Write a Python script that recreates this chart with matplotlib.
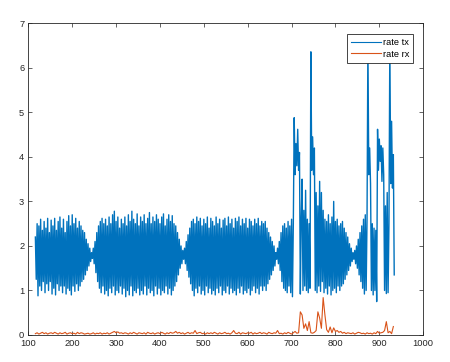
import numpy as np
import matplotlib
matplotlib.use("Agg")
import matplotlib.pyplot as plt

# ---- data ----
tx_start, tx_step = 116, 2
rate_tx = [
    2.2, 1.25, 2.5, 0.88, 2.45, 1.1, 2.6, 1.0, 2.35, 1.2,
    2.55, 0.95, 2.4, 1.15, 2.62, 1.0, 2.3, 1.2, 2.58, 0.92,
    2.45, 1.05, 2.62, 0.9, 2.35, 1.15, 2.55, 1.0, 2.65, 1.1,
    2.4, 0.95, 2.6, 1.1, 2.3, 0.92, 2.55, 1.05, 2.68, 1.0,
    2.45, 0.9, 2.7, 1.1, 2.5, 0.98, 2.62, 1.15, 2.4, 1.0,
    2.55, 1.1, 2.45, 1.2, 2.35, 1.25, 2.3, 1.35, 2.15, 1.45,
    2.05, 1.55, 1.95, 1.65, 1.85, 1.72, 1.95, 1.6, 2.1, 1.4,
    2.3, 1.2, 2.45, 1.05, 2.55, 0.95, 2.62, 1.1, 2.5, 0.92,
    2.6, 1.0, 2.45, 0.88, 2.65, 1.05, 2.5, 0.95, 2.7, 1.1,
    2.78, 0.9, 2.55, 1.0, 2.65, 0.95, 2.4, 1.1, 2.6, 0.92,
    2.5, 1.05, 2.65, 0.86, 2.45, 1.0, 2.7, 0.9, 2.55, 1.1,
    2.78, 0.88, 2.6, 1.0, 2.5, 0.95, 2.72, 1.05, 2.45, 0.9,
    2.65, 1.0, 2.55, 0.92, 2.7, 1.1, 2.5, 0.9, 2.62, 1.05,
    2.75, 0.95, 2.5, 1.0, 2.65, 0.88, 2.55, 1.1, 2.7, 0.92,
    2.6, 1.05, 2.5, 0.9, 2.65, 1.0, 2.72, 0.95, 2.45, 1.1,
    2.6, 0.92, 2.7, 1.05, 2.55, 0.9, 2.68, 1.0, 2.5, 1.1,
    2.45, 1.2, 2.3, 1.35, 2.15, 1.5, 2.0, 1.6, 1.9, 1.7,
    1.95, 1.6, 2.1, 1.45, 2.25, 1.3, 2.4, 1.15, 2.55, 1.0,
    2.6, 0.88, 2.5, 1.05, 2.65, 0.95, 2.55, 1.1, 2.62, 0.92,
    2.45, 1.0, 2.6, 0.9, 2.5, 1.1, 2.65, 0.95, 2.4, 1.05,
    2.62, 0.92, 2.55, 1.0, 2.45, 0.9, 2.65, 1.05, 2.5, 0.95,
    2.6, 1.1, 2.4, 0.9, 2.58, 1.0, 2.62, 0.95, 2.45, 1.1,
    2.65, 0.92, 2.5, 1.05, 2.6, 0.95, 2.4, 1.0, 2.62, 0.9,
    2.55, 1.05, 2.65, 0.95, 2.45, 1.1, 2.6, 0.92, 2.5, 1.0,
    2.62, 0.95, 2.4, 1.05, 2.6, 0.9, 2.55, 1.0, 2.45, 1.1,
    2.6, 0.95, 2.5, 1.05, 2.62, 0.92, 2.45, 1.1, 2.55, 1.0,
    2.5, 1.1, 2.55, 1.0, 2.4, 1.15, 2.3, 1.25, 2.2, 1.35,
    2.1, 1.45, 2.0, 1.55, 1.85, 1.7, 1.95, 1.6, 2.1, 1.45,
    2.3, 1.2, 2.45, 1.05, 2.5, 1.0, 2.4, 0.95, 2.55, 1.1,
    2.45, 0.95, 2.6, 0.86, 2.5, 4.88, 3.6, 4.3, 3.8, 4.62,
    3.7, 4.1, 0.92, 2.6, 3.5, 1.0, 2.8, 1.1, 3.25, 1.0,
    2.6, 0.95, 2.5, 1.05, 6.36, 3.7, 4.45, 3.6, 4.2, 1.0,
    3.2, 0.95, 2.9, 1.1, 3.45, 0.98, 3.2, 1.2, 2.8, 0.95,
    2.6, 1.05, 2.55, 0.92, 2.7, 1.1, 2.5, 0.9, 2.65, 1.0,
    3.0, 1.05, 2.55, 0.95, 2.6, 1.1, 2.45, 1.0, 2.5, 1.1,
    2.55, 1.15, 2.4, 1.25, 2.3, 1.35, 2.2, 1.45, 2.05, 1.55,
    1.95, 1.65, 1.85, 1.7, 1.9, 1.6, 2.0, 1.5, 2.15, 1.35,
    2.3, 1.2, 2.45, 1.05, 2.6, 0.92, 2.7, 1.0, 2.6, 6.6,
    3.6, 4.2, 3.4, 1.0, 2.5, 0.9, 2.4, 1.0, 2.35, 0.75,
    4.62, 3.7, 4.4, 3.9, 4.25, 3.45, 4.2, 3.6, 1.0, 2.9,
    0.93, 3.2, 0.95, 2.5, 6.6, 3.4, 4.8, 3.3, 4.05, 1.35,
]

rx_start, rx_step = 116, 4
rate_rx = [
    0.03, 0.05, 0.02, 0.04, 0.06, 0.03, 0.05, 0.02, 0.04, 0.05,
    0.03, 0.06, 0.04, 0.02, 0.05, 0.03, 0.04, 0.06, 0.02, 0.04,
    0.05, 0.03, 0.04, 0.02, 0.06, 0.03, 0.05, 0.04, 0.02, 0.03,
    0.04, 0.02, 0.03, 0.05, 0.02, 0.04, 0.03, 0.05, 0.02, 0.04,
    0.03, 0.05, 0.02, 0.04, 0.06, 0.08, 0.05, 0.07, 0.04, 0.05,
    0.03, 0.05, 0.04, 0.02, 0.05, 0.03, 0.06, 0.04, 0.02, 0.05,
    0.04, 0.03, 0.05, 0.02, 0.06, 0.04, 0.03, 0.05, 0.02, 0.04,
    0.05, 0.03, 0.06, 0.04, 0.02, 0.05, 0.03, 0.06, 0.04, 0.05,
    0.08, 0.04, 0.06, 0.03, 0.05, 0.02, 0.04, 0.06, 0.03, 0.05,
    0.04, 0.10, 0.03, 0.05, 0.06, 0.03, 0.04, 0.02, 0.05, 0.03,
    0.05, 0.03, 0.06, 0.04, 0.02, 0.05, 0.03, 0.04, 0.06, 0.03,
    0.04, 0.02, 0.05, 0.10, 0.04, 0.03, 0.06, 0.02, 0.05, 0.04,
    0.03, 0.05, 0.04, 0.06, 0.02, 0.05, 0.03, 0.04, 0.06, 0.03,
    0.05, 0.04, 0.02, 0.06, 0.04, 0.03, 0.05, 0.04, 0.10, 0.03,
    0.04, 0.02, 0.05, 0.03, 0.06, 0.04, 0.02, 0.05, 0.08, 0.04,
    0.05, 0.52, 0.45, 0.15, 0.25, 0.10, 0.30, 0.05, 0.04, 0.06,
    0.10, 0.52, 0.38, 0.15, 0.84, 0.45, 0.12, 0.06, 0.18, 0.05,
    0.16, 0.08, 0.10, 0.06, 0.08, 0.04, 0.06, 0.03, 0.05, 0.04,
    0.03, 0.05, 0.02, 0.04, 0.06, 0.05, 0.03, 0.04, 0.02, 0.05,
    0.03, 0.04, 0.02, 0.05, 0.03, 0.08, 0.04, 0.05, 0.06, 0.10,
    0.30, 0.05, 0.08, 0.03, 0.19,
]

series_labels = ["rate tx", "rate rx"]
x_ticks = [100, 200, 300, 400, 500, 600, 700, 800, 900, 1000]
y_ticks = [0, 1, 2, 3, 4, 5, 6, 7]

# ---- drawing ----
plt.rcParams['font.family'] = ['Liberation Sans', 'DejaVu Sans']
fig = plt.figure(figsize=(4.5, 3.62), dpi=100)
ax = fig.add_axes([0.063, 0.0746, 0.8774, 0.861])

tx_x = tx_start + tx_step * np.arange(len(rate_tx))
rx_x = rx_start + rx_step * np.arange(len(rate_rx))

ax.plot(tx_x, rate_tx, color='#0072BD', lw=1.0, label=series_labels[0])
ax.plot(rx_x, rate_rx, color='#D95319', lw=0.8, label=series_labels[1])

ax.set_xlim(100, 1000)
ax.set_ylim(0, 7)
ax.set_xticks(x_ticks)
ax.set_yticks(y_ticks)

axcol = '#262626'
for s in ax.spines.values():
    s.set_color(axcol)
    s.set_linewidth(0.6)
ax.tick_params(direction='in', length=3, width=0.5, color=axcol,
               labelcolor=axcol, labelsize=6.7, top=True, right=True, pad=3)

leg = ax.legend(loc='upper right', bbox_to_anchor=(0.9747, 0.967),
                borderaxespad=0, fontsize=6.7, handlelength=3.2,
                handletextpad=0.2, borderpad=0.45, labelspacing=0.3,
                fancybox=False, framealpha=1, edgecolor=axcol)
leg.get_frame().set_linewidth(0.6)
for h in leg.get_lines():
    h.set_linewidth(0.8)

fig.savefig('out.png', dpi=100)
